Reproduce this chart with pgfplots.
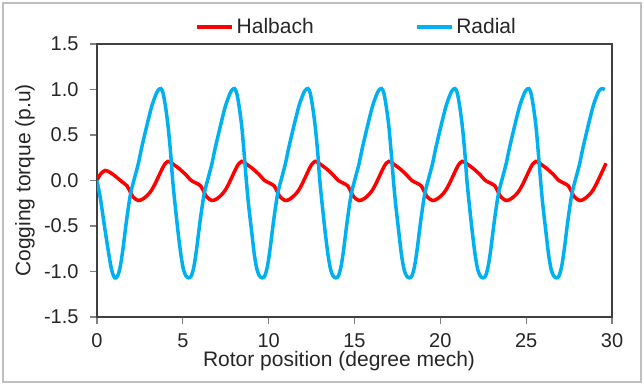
\documentclass[border=0pt]{standalone}
\usepackage{fontspec}
\setmainfont{Liberation Sans}
\usepackage{pgfplots}
\pgfplotsset{compat=1.18}
\definecolor{halb}{HTML}{FF0000}
\definecolor{rad}{HTML}{00B0F0}
\definecolor{axgray}{HTML}{404040}
\definecolor{txt}{HTML}{262626}
\begin{document}
\begin{tikzpicture}
\useasboundingbox (-97bp,-68bp) rectangle (547bp,317bp);
\draw[color=black!25, line width=2bp] (-94bp,-65bp) rectangle (544bp,314bp);
\begin{axis}[
  at={(0,0)}, anchor=south west,
  scale only axis, width=515bp, height=273bp,
  xmin=0, xmax=30, ymin=-1.5, ymax=1.5,
  xtick={0,5,...,30}, ytick={-1.5,-1,...,1.5},
  xtick pos=left, ytick pos=left,
  tick align=outside, major tick length=7bp,
  tick style={color=black!50, line width=1.2bp},
  axis line style={color=axgray, line width=2.8bp},
  /pgf/number format/assume math mode=true,
  yticklabel style={/pgf/number format/fixed, /pgf/number format/fixed zerofill, /pgf/number format/precision=1, xshift=-8bp},
  xticklabel style={yshift=-6bp},
  ticklabel style={font=\fontsize{20bp}{24bp}\selectfont, text=txt},
  xlabel={Rotor position (degree mech)},
  ylabel={Cogging torque (p.u)},
  label style={font=\fontsize{21bp}{25bp}\selectfont, text=txt},
  xlabel style={at={(axis description cs:0.47,-0.161)}, anchor=center},
  ylabel style={at={(axis description cs:-0.14,0.5)}, anchor=center},
  legend columns=2,
  legend style={at={(axis description cs:0.502,1.062)}, anchor=center, draw=none, fill=none,
    font=\fontsize{21bp}{25bp}\selectfont, text=txt, nodes={inner sep=0bp},
    /tikz/every odd column/.append style={column sep=3bp},
    /tikz/every even column/.append style={column sep=101bp}},
  legend image code/.code={\draw[#1, line width=3.5bp] (0bp,0bp) -- (35bp,0bp);},
]
\addplot[color=halb, line width=3.5bp, smooth] coordinates {
(0,0) (0.2,0.07) (0.47,0.11) (0.75,0.09) (1.05,0.05) (1.3,0.01) (1.5,-0.02) (1.75,-0.06) (1.95,-0.13) (2.1,-0.18) (2.4,-0.22) (2.7,-0.20) (3.0,-0.15) (3.2,-0.10) (3.4,-0.03) (3.6,0.05) (3.8,0.13) (3.95,0.18) (4.14,0.21)
(4.29,0.20) (4.54,0.165) (4.79,0.13) (5.14,0.07) (5.49,0.00) (5.79,-0.03) (6.04,-0.06) (6.24,-0.13) (6.39,-0.18) (6.69,-0.22) (6.99,-0.20) (7.29,-0.15) (7.49,-0.10) (7.69,-0.03) (7.89,0.05) (8.09,0.13) (8.24,0.18) (8.43,0.21)
(8.57,0.20) (8.82,0.165) (9.07,0.13) (9.42,0.07) (9.77,0.00) (10.07,-0.03) (10.32,-0.06) (10.52,-0.13) (10.67,-0.18) (10.97,-0.22) (11.27,-0.20) (11.57,-0.15) (11.77,-0.10) (11.97,-0.03) (12.17,0.05) (12.37,0.13) (12.52,0.18) (12.71,0.21)
(12.86,0.20) (13.11,0.165) (13.36,0.13) (13.71,0.07) (14.06,0.00) (14.36,-0.03) (14.61,-0.06) (14.81,-0.13) (14.96,-0.18) (15.26,-0.22) (15.56,-0.20) (15.86,-0.15) (16.06,-0.10) (16.26,-0.03) (16.46,0.05) (16.66,0.13) (16.81,0.18) (17.00,0.21)
(17.14,0.20) (17.39,0.165) (17.64,0.13) (17.99,0.07) (18.34,0.00) (18.64,-0.03) (18.89,-0.06) (19.09,-0.13) (19.24,-0.18) (19.54,-0.22) (19.84,-0.20) (20.14,-0.15) (20.34,-0.10) (20.54,-0.03) (20.74,0.05) (20.94,0.13) (21.09,0.18) (21.28,0.21)
(21.43,0.20) (21.68,0.165) (21.93,0.13) (22.28,0.07) (22.63,0.00) (22.93,-0.03) (23.18,-0.06) (23.38,-0.13) (23.53,-0.18) (23.83,-0.22) (24.13,-0.20) (24.43,-0.15) (24.63,-0.10) (24.83,-0.03) (25.03,0.05) (25.23,0.13) (25.38,0.18) (25.57,0.21)
(25.71,0.20) (25.96,0.165) (26.21,0.13) (26.56,0.07) (26.91,0.00) (27.21,-0.03) (27.46,-0.06) (27.66,-0.13) (27.81,-0.18) (28.11,-0.22) (28.41,-0.20) (28.71,-0.15) (28.91,-0.10) (29.11,-0.03) (29.31,0.05) (29.51,0.13) (29.65,0.19)
};
\addlegendentry{Halbach}
\addplot[color=rad, line width=3.5bp, smooth] coordinates {
(0,0) (0.2,-0.2) (0.45,-0.52) (0.68,-0.80) (0.85,-0.98) (1.03,-1.07) (1.2,-1.05) (1.35,-0.95) (1.5,-0.77) (1.72,-0.44) (1.95,-0.15) (2.19,0.03) (2.4,0.18) (2.6,0.36) (2.9,0.60) (3.18,0.81) (3.4,0.93) (3.55,0.99) (3.72,1.01) (3.85,0.96) (4.0,0.80) (4.15,0.58)
(4.29,0.30) (4.40,0.02) (4.54,-0.25) (4.73,-0.58) (4.89,-0.82) (5.04,-0.98) (5.19,-1.05) (5.34,-1.07) (5.49,-1.05) (5.64,-0.95) (5.79,-0.77) (6.01,-0.44) (6.24,-0.15) (6.48,0.03) (6.69,0.18) (6.89,0.36) (7.19,0.60) (7.47,0.81) (7.69,0.93) (7.84,0.99) (8.01,1.01) (8.14,0.96) (8.29,0.80) (8.44,0.58)
(8.57,0.30) (8.69,0.02) (8.82,-0.25) (9.02,-0.58) (9.17,-0.82) (9.32,-0.98) (9.47,-1.05) (9.62,-1.07) (9.77,-1.05) (9.92,-0.95) (10.07,-0.77) (10.29,-0.44) (10.52,-0.15) (10.76,0.03) (10.97,0.18) (11.17,0.36) (11.47,0.60) (11.75,0.81) (11.97,0.93) (12.12,0.99) (12.29,1.01) (12.42,0.96) (12.57,0.80) (12.72,0.58)
(12.86,0.30) (12.97,0.02) (13.11,-0.25) (13.30,-0.58) (13.46,-0.82) (13.61,-0.98) (13.76,-1.05) (13.91,-1.07) (14.06,-1.05) (14.21,-0.95) (14.36,-0.77) (14.58,-0.44) (14.81,-0.15) (15.05,0.03) (15.26,0.18) (15.46,0.36) (15.76,0.60) (16.04,0.81) (16.26,0.93) (16.41,0.99) (16.58,1.01) (16.71,0.96) (16.86,0.80) (17.01,0.58)
(17.14,0.30) (17.26,0.02) (17.39,-0.25) (17.59,-0.58) (17.74,-0.82) (17.89,-0.98) (18.04,-1.05) (18.19,-1.07) (18.34,-1.05) (18.49,-0.95) (18.64,-0.77) (18.86,-0.44) (19.09,-0.15) (19.33,0.03) (19.54,0.18) (19.74,0.36) (20.04,0.60) (20.32,0.81) (20.54,0.93) (20.69,0.99) (20.86,1.01) (20.99,0.96) (21.14,0.80) (21.29,0.58)
(21.43,0.30) (21.54,0.02) (21.68,-0.25) (21.87,-0.58) (22.03,-0.82) (22.18,-0.98) (22.33,-1.05) (22.48,-1.07) (22.63,-1.05) (22.78,-0.95) (22.93,-0.77) (23.15,-0.44) (23.38,-0.15) (23.62,0.03) (23.83,0.18) (24.03,0.36) (24.33,0.60) (24.61,0.81) (24.83,0.93) (24.98,0.99) (25.15,1.01) (25.28,0.96) (25.43,0.80) (25.58,0.58)
(25.71,0.30) (25.83,0.02) (25.96,-0.25) (26.16,-0.58) (26.31,-0.82) (26.46,-0.98) (26.61,-1.05) (26.76,-1.07) (26.91,-1.05) (27.06,-0.95) (27.21,-0.77) (27.43,-0.44) (27.66,-0.15) (27.90,0.03) (28.11,0.18) (28.31,0.36) (28.61,0.60) (28.89,0.81) (29.11,0.93) (29.26,0.99) (29.43,1.01) (29.58,1.00)
};
\addlegendentry{Radial}
\end{axis}
\end{tikzpicture}
\end{document}
